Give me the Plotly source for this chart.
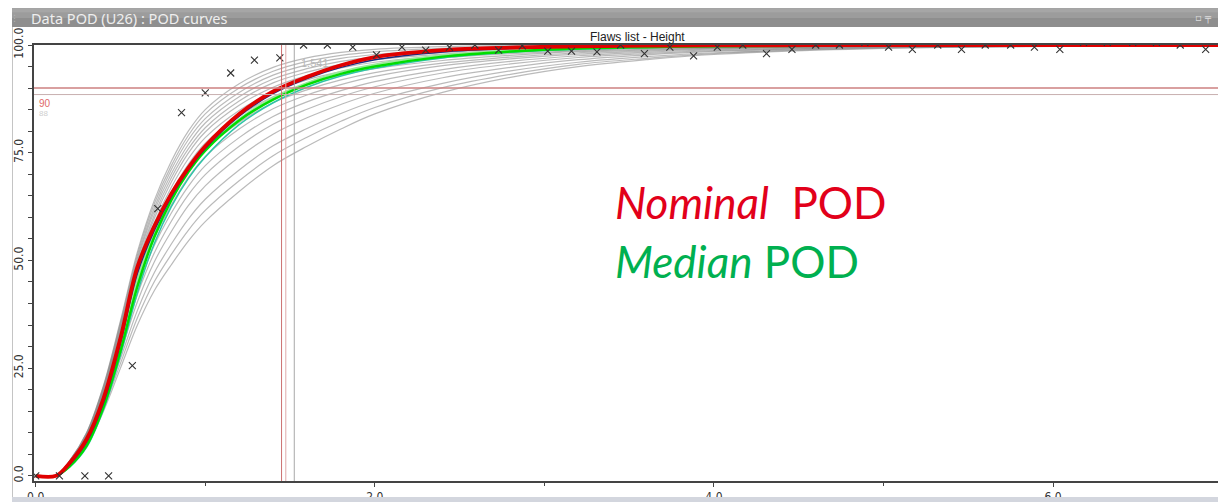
import plotly.graph_objects as go

# ---------------- data ----------------
x_grid = [0, 0.12, 0.2, 0.3, 0.4, 0.5, 0.6, 0.7, 0.8, 0.9, 1.0, 1.2, 1.4, 1.6, 1.8, 2.0,
          2.4, 2.8, 3.2, 3.6, 4.0, 5.0, 6.0, 7.0]

nominal_pod = [0, 0, 3, 8.5, 18, 32, 48.5, 58, 65.5, 71.5, 76.5, 84, 89.2, 92.6, 95.3, 97.2,
               98.8, 99.4, 99.7, 99.85, 99.9, 100, 100, 100]

median_pod = [0, 0, 2.2, 7, 16, 29, 44, 55.5, 64, 70.5, 75.5, 82.5, 87.3, 90.8, 93.3, 95,
              97.3, 98.5, 99.2, 99.5, 99.7, 99.9, 100, 100]

median_pod_2 = [0, 0, 2.4, 7.4, 16.8, 30, 45.5, 56.5, 64.5, 70.8, 75.8, 82.8, 87.8, 91.2, 93.8, 95.5,
                97.6, 98.7, 99.3, 99.6, 99.75, 99.9, 100, 100]

teal_pod = [0, 0, 2.0, 6.6, 15.4, 28, 42.5, 54, 62.5, 69, 74, 81.5, 86.6, 90.2, 92.8, 94.6,
            97.0, 98.3, 99.0, 99.4, 99.6, 99.9, 100, 100]

blue_pod = [0, 0, 2.6, 7.8, 17, 30.8, 47, 57, 64.8, 71, 76, 83.5, 88.7, 92.2, 94.8, 96.6,
            98.4, 99.2, 99.6, 99.8, 99.9, 100, 100, 100]

gray_curves = [
    [0, 0, 3.5, 10, 21, 36, 52, 64, 73, 80, 85, 91, 94.8, 97, 98.3, 99, 99.6, 99.85, 99.95, 100, 100, 100, 100, 100],
    [0, 0, 3.5, 9.9, 20.8, 35.6, 51.3, 63.2, 72, 79, 84, 90, 93.9, 96.2, 97.6, 98.4, 99.2, 99.6, 99.75, 99.9, 99.9, 100, 100, 100],
    [0, 0, 3.4, 9.8, 20.5, 35.1, 50.6, 62.3, 71.1, 78, 82.9, 89, 93, 95.4, 96.9, 97.8, 98.8, 99.3, 99.6, 99.7, 99.8, 99.9, 100, 100],
    [0, 0, 3.4, 9.6, 20.3, 34.7, 50, 61.5, 70.1, 76.9, 81.9, 88, 92.1, 94.5, 96.2, 97.2, 98.3, 99, 99.4, 99.6, 99.7, 99.9, 100, 100],
    [0, 0, 3.3, 9.5, 20, 34.2, 49.3, 60.6, 69.2, 75.9, 80.8, 87, 91.2, 93.7, 95.5, 96.6, 97.9, 98.7, 99.2, 99.5, 99.6, 99.9, 99.95, 100],
    [0, 0, 3.3, 9.4, 19.8, 33.8, 48.6, 59.8, 68.2, 74.9, 79.8, 86, 90.2, 92.9, 94.7, 96, 97.5, 98.4, 99, 99.3, 99.6, 99.8, 99.9, 100],
    [0, 0, 3.2, 9.2, 19.5, 33.2, 47.8, 58.8, 67, 73.6, 78.5, 84.8, 89.1, 91.9, 93.8, 95.2, 97, 98, 98.7, 99.2, 99.4, 99.8, 99.9, 100],
    [0, 0, 3.2, 9.1, 19.2, 32.7, 46.9, 57.7, 65.8, 72.3, 77.2, 83.5, 88, 90.8, 93, 94.5, 96.4, 97.6, 98.5, 99, 99.3, 99.8, 99.9, 100],
    [0, 0, 3.1, 8.9, 18.8, 32, 45.9, 56.4, 64.4, 70.8, 75.6, 82, 86.6, 89.6, 91.9, 93.6, 95.8, 97.2, 98.2, 98.8, 99.2, 99.7, 99.9, 100],
    [0, 0, 3.1, 8.7, 18.5, 31.4, 44.9, 55.2, 62.9, 69.3, 74.1, 80.5, 85.2, 88.4, 90.8, 92.7, 95.2, 96.8, 97.9, 98.6, 99.1, 99.7, 99.9, 100],
    [0, 0, 3, 8.5, 18, 30.5, 43.5, 53.5, 61, 67.2, 72, 78.5, 83.4, 86.8, 89.4, 91.5, 94.3, 96.2, 97.5, 98.3, 98.9, 99.6, 99.85, 99.95],
    [0, 0, 2.9, 8.3, 17.5, 29.6, 42.1, 51.8, 59.1, 65.2, 69.9, 76.5, 81.6, 85.1, 88, 90.3, 93.5, 95.6, 97.1, 98, 98.7, 99.5, 99.8, 99.9],
    [0, 0, 2.8, 8, 16.9, 28.5, 40.4, 49.7, 56.7, 62.7, 67.3, 74, 79.3, 83.1, 86.2, 88.8, 92.4, 94.8, 96.6, 97.7, 98.5, 99.5, 99.8, 99.9],
    [0, 0, 2.7, 7.6, 16.2, 27.2, 38.4, 47.2, 53.8, 59.6, 64.2, 71, 76.6, 80.6, 84.1, 87, 91.1, 94, 96, 97.3, 98.2, 99.4, 99.8, 99.9],
    [0, 0, 2.6, 7.3, 15.6, 26.1, 36.7, 45.1, 51.4, 57, 61.6, 68.5, 74.3, 78.6, 82.3, 85.5, 90.1, 93.2, 95.5, 96.9, 98, 99.3, 99.7, 99.9],
    [0, 0, 2.5, 7, 15, 25, 35, 43, 49, 54.5, 59, 66, 72, 76.5, 80.5, 84, 89, 92.5, 95, 96.6, 97.8, 99.2, 99.7, 99.9],
]

flaw_x = [0, 0.14, 0.29, 0.43, 0.57, 0.72, 0.86, 1.0, 1.15, 1.29, 1.44, 1.58, 1.72, 1.87,
          2.01, 2.16, 2.30, 2.44, 2.59, 2.73, 2.87, 3.02, 3.16, 3.31, 3.45, 3.59, 3.74, 3.88,
          4.02, 4.17, 4.31, 4.46, 4.60, 4.74, 4.89, 5.03, 5.17, 5.32, 5.46, 5.60, 5.75, 5.89,
          6.04, 6.18, 6.32, 6.47, 6.61, 6.75, 6.90, 7.04]
flaw_pod = [0, 0, 0, 0, 25.6, 62, 84.3, 88.9, 93.5, 96.5, 97, 100, 100, 99.5,
            97.7, 99.5, 98.8, 99.5, 100, 98.8, 99.8, 98.6, 98.6, 98.4, 100, 98, 99.5, 97.5,
            99.5, 100, 98, 99, 100, 100, 100.6, 99.5, 99, 100, 99, 100, 100, 99.5,
            99, 100.6, 100.6, 100.6, 100.6, 100, 99, 100]

a90_nominal = 1.45
a90_median = 1.475
a90_95 = 1.525
a90_label = "1.541"
pod_level = 90
pod_level_lower = 88.5

x_ticks = [0, 2, 4, 6, 7]
x_tick_text = ["0.0", "2.0", "4.0", "6.0", "7.0"]
y_ticks = [0, 25, 50, 75, 100]
y_tick_text = ["0.0", "25.0", "50.0", "75.0", "100.0"]

# ---------------- figure ----------------
# the page body has an 8px margin, so the figure is offset by (8, 8) in the window
OFF = 8
W, H = 1226 - OFF, 504 - OFF
ML, MR, MT, MB = 34 - OFF, 0, 45 - OFF, (504 - OFF) - (483 - OFF)
PW, PH = W - ML - MR, H - MT - MB


def px(xp):
    """window pixel x -> paper coordinate"""
    return (xp - OFF - ML) / PW


def py(yp):
    """window pixel y -> paper coordinate"""
    return (H - MB - (yp - OFF)) / PH


fig = go.Figure()

for c in gray_curves:
    fig.add_trace(go.Scatter(x=x_grid, y=c, mode="lines", line=dict(color="rgba(140,140,140,0.6)", width=1.2),
                             line_shape="spline", hoverinfo="skip", showlegend=False))

fig.add_trace(go.Scatter(x=x_grid, y=teal_pod, mode="lines", line=dict(color="#2ec4a8", width=1.5),
                         line_shape="spline", showlegend=False))
fig.add_trace(go.Scatter(x=x_grid, y=median_pod_2, mode="lines", line=dict(color="#9be89b", width=2),
                         line_shape="spline", showlegend=False))
fig.add_trace(go.Scatter(x=x_grid, y=median_pod, mode="lines", line=dict(color="#00dd00", width=2.5),
                         line_shape="spline", showlegend=False))
fig.add_trace(go.Scatter(x=x_grid, y=blue_pod, mode="lines", line=dict(color="#1a2a80", width=1.5),
                         line_shape="spline", showlegend=False))
fig.add_trace(go.Scatter(x=x_grid, y=nominal_pod, mode="lines", line=dict(color="#e00000", width=3.8),
                         line_shape="spline", showlegend=False))

fig.add_trace(go.Scatter(x=flaw_x, y=flaw_pod, mode="markers",
                         marker=dict(symbol="x-thin", size=7, line=dict(color="#333333", width=1.1)),
                         cliponaxis=True, showlegend=False))

# reference lines
fig.add_hline(y=pod_level, line=dict(color="#cc8080", width=1.5))
fig.add_hline(y=pod_level_lower, line=dict(color="#c8b0b0", width=1))
fig.add_vline(x=a90_nominal, line=dict(color="#cc7070", width=1))
fig.add_vline(x=a90_median, line=dict(color="#e0aaaa", width=1))
fig.add_vline(x=a90_95, line=dict(color="#a8a8a8", width=1))

shapes = [
    # title bar (pseudo gradient)
    dict(type="rect", xref="paper", yref="paper", x0=px(12), x1=1.0, y0=py(27), y1=py(8),
         fillcolor="#8e8e8e", line=dict(width=0), layer="below"),
    dict(type="rect", xref="paper", yref="paper", x0=px(12), x1=1.0, y0=py(18), y1=py(8),
         fillcolor="#9c9c9c", line=dict(width=0), layer="below"),
    dict(type="rect", xref="paper", yref="paper", x0=px(12), x1=1.0, y0=py(12), y1=py(8),
         fillcolor="#a6a6a6", line=dict(width=0), layer="below"),
    # panel left border
    dict(type="line", xref="paper", yref="paper", x0=px(12.5), x1=px(12.5), y0=py(500), y1=py(27),
         line=dict(color="#c4c4c4", width=1)),
    # bottom border
    dict(type="rect", xref="paper", yref="paper", x0=px(12), x1=1.0, y0=py(504), y1=py(499),
         fillcolor="#d3d6de", line=dict(width=0)),
]
fig.update_layout(shapes=list(fig.layout.shapes) + shapes)

annotations = [
    dict(text="Data POD (U26) : POD curves", xref="paper", yref="paper", x=px(29), y=py(17.5),
         xanchor="left", yanchor="middle", showarrow=False,
         font=dict(family="Noto Sans", size=14.5, color="#eeeeee")),
    dict(text="⋮", xref="paper", yref="paper", x=px(14), y=py(18), xanchor="center", yanchor="middle",
         showarrow=False, font=dict(family="DejaVu Sans", size=9, color="#b0b0b0")),
    dict(text="▫ ╤", xref="paper", yref="paper", x=px(1214), y=py(17.5), xanchor="right", yanchor="middle",
         showarrow=False, font=dict(family="DejaVu Sans", size=10, color="#dddddd")),
    dict(text="Flaws list - Height", xref="paper", yref="paper", x=px(637), y=py(37), xanchor="center",
         yanchor="middle", showarrow=False, font=dict(family="Liberation Sans", size=12, color="#222222")),
    dict(text=str(pod_level), xref="paper", yref="y", x=px(37), y=86.4, xanchor="left", yanchor="middle",
         showarrow=False, font=dict(family="Liberation Sans", size=10, color="#e06a6a")),
    dict(text="88", xref="paper", yref="y", x=px(37), y=84.2, xanchor="left", yanchor="middle",
         showarrow=False, font=dict(family="Liberation Sans", size=8, color="#cfcfcf")),
    dict(text=a90_label, xref="x", yref="y", x=1.55, y=95.8, xanchor="left", yanchor="middle",
         showarrow=False, font=dict(family="Liberation Sans", size=11, color="#b8b8b8")),
    dict(text="<i>Nominal</i>  POD", xref="paper", yref="y", x=px(613), y=63.5, xanchor="left",
         yanchor="middle", showarrow=False, font=dict(family="Lato", size=44, color="#e2001a")),
    dict(text="<i>Median</i> POD", xref="paper", yref="y", x=px(613), y=49.9, xanchor="left",
         yanchor="middle", showarrow=False, font=dict(family="Lato", size=44, color="#00b050")),
]
fig.update_layout(annotations=annotations)

tick_font = dict(family="Liberation Sans Narrow, DejaVu Sans Condensed, Liberation Sans", size=12, color="#333333")
fig.update_layout(
    width=W, height=H,
    margin=dict(l=ML, r=MR, t=MT, b=MB, pad=0),
    paper_bgcolor="white", plot_bgcolor="white",
    showlegend=False,
    xaxis=dict(range=[-0.01, 7.02], showgrid=False, zeroline=False, showline=True, linecolor="#444444",
               linewidth=1.5, mirror=True, ticks="outside", ticklen=4, tickcolor="#444444",
               tickvals=x_ticks, ticktext=x_tick_text, tickfont=tick_font,
               minor=dict(dtick=1, ticks="outside", ticklen=3, tickcolor="#444444")),
    yaxis=dict(range=[-1.2, 100], showgrid=False, zeroline=False, showline=True, linecolor="#444444",
               linewidth=1.5, ticks="outside", ticklen=4, tickcolor="#444444",
               tickvals=y_ticks, ticktext=y_tick_text, tickangle=-90, tickfont=tick_font,
               minor=dict(dtick=5, ticks="outside", ticklen=4, tickcolor="#444444")),
)

fig.write_html("out.html")
